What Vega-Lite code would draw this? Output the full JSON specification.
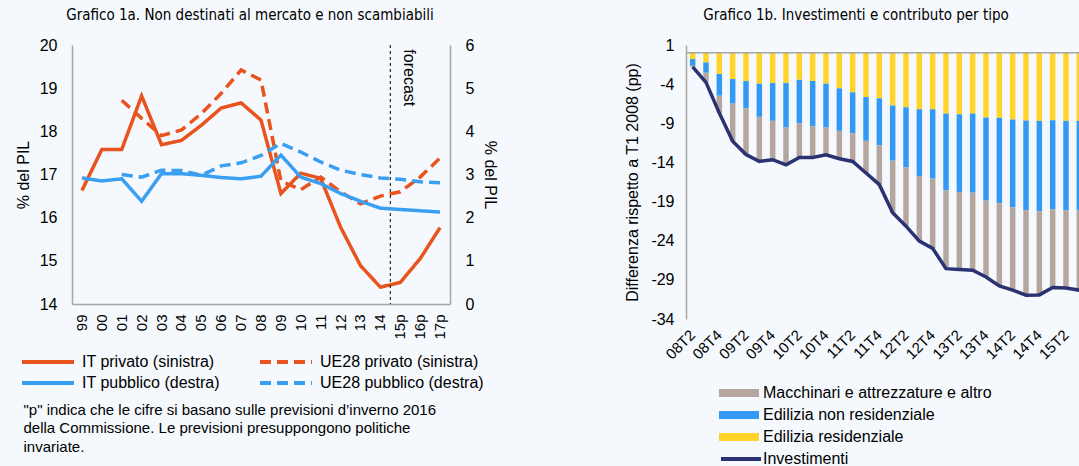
{
"$schema": "https://vega.github.io/schema/vega-lite/v6.json",
"background": "#f5f9fd",
"padding": {"left": 15, "top": 8, "right": 0, "bottom": 0},
"spacing": 236,
"bounds": "flush",
"resolve": {"scale": {"color": "independent", "stroke": "independent", "strokeDash": "independent"}, "legend": {"color": "independent", "stroke": "independent", "strokeDash": "independent"}},
"config": {
  "font": "Liberation Sans",
  "view": {"stroke": null},
  "axis": {"grid": false, "ticks": false, "domainColor": "#a6a6a6", "domainWidth": 1.5, "labelFontSize": 16, "labelColor": "#000", "titleFontWeight": "normal", "titleFontSize": 16, "titleColor": "#000", "labelOverlap": false},
  "legend": {"labelFontSize": 16, "labelColor": "#000", "padding": 0, "labelLimit": 400, "clipHeight": 18},
  "title": {"font": "DejaVu Sans Condensed", "fontSize": 15, "fontWeight": "normal", "color": "#000"}
},
"datasets": {
  "a": [
    {"anno":"99","serie":"IT privato (sinistra)","v":16.63},{"anno":"00","serie":"IT privato (sinistra)","v":17.58},{"anno":"01","serie":"IT privato (sinistra)","v":17.58},{"anno":"02","serie":"IT privato (sinistra)","v":18.82},{"anno":"03","serie":"IT privato (sinistra)","v":17.69},{"anno":"04","serie":"IT privato (sinistra)","v":17.79},{"anno":"05","serie":"IT privato (sinistra)","v":18.14},{"anno":"06","serie":"IT privato (sinistra)","v":18.54},{"anno":"07","serie":"IT privato (sinistra)","v":18.66},{"anno":"08","serie":"IT privato (sinistra)","v":18.26},{"anno":"09","serie":"IT privato (sinistra)","v":16.56},{"anno":"10","serie":"IT privato (sinistra)","v":17.03},{"anno":"11","serie":"IT privato (sinistra)","v":16.91},{"anno":"12","serie":"IT privato (sinistra)","v":15.78},{"anno":"13","serie":"IT privato (sinistra)","v":14.89},{"anno":"14","serie":"IT privato (sinistra)","v":14.39},{"anno":"15p","serie":"IT privato (sinistra)","v":14.5},{"anno":"16p","serie":"IT privato (sinistra)","v":15.05},{"anno":"17p","serie":"IT privato (sinistra)","v":15.77},
    {"anno":"01","serie":"UE28 privato (sinistra)","v":18.72},{"anno":"02","serie":"UE28 privato (sinistra)","v":18.3},{"anno":"03","serie":"UE28 privato (sinistra)","v":17.9},{"anno":"04","serie":"UE28 privato (sinistra)","v":18.03},{"anno":"05","serie":"UE28 privato (sinistra)","v":18.41},{"anno":"06","serie":"UE28 privato (sinistra)","v":18.88},{"anno":"07","serie":"UE28 privato (sinistra)","v":19.42},{"anno":"08","serie":"UE28 privato (sinistra)","v":19.19},{"anno":"09","serie":"UE28 privato (sinistra)","v":16.85},{"anno":"10","serie":"UE28 privato (sinistra)","v":16.65},{"anno":"11","serie":"UE28 privato (sinistra)","v":16.94},{"anno":"12","serie":"UE28 privato (sinistra)","v":16.6},{"anno":"13","serie":"UE28 privato (sinistra)","v":16.32},{"anno":"14","serie":"UE28 privato (sinistra)","v":16.5},{"anno":"15p","serie":"UE28 privato (sinistra)","v":16.6},{"anno":"16p","serie":"UE28 privato (sinistra)","v":16.94},{"anno":"17p","serie":"UE28 privato (sinistra)","v":17.38},
    {"anno":"99","serie":"IT pubblico (destra)","v":2.92},{"anno":"00","serie":"IT pubblico (destra)","v":2.85},{"anno":"01","serie":"IT pubblico (destra)","v":2.9},{"anno":"02","serie":"IT pubblico (destra)","v":2.38},{"anno":"03","serie":"IT pubblico (destra)","v":3.02},{"anno":"04","serie":"IT pubblico (destra)","v":3.02},{"anno":"05","serie":"IT pubblico (destra)","v":2.98},{"anno":"06","serie":"IT pubblico (destra)","v":2.93},{"anno":"07","serie":"IT pubblico (destra)","v":2.9},{"anno":"08","serie":"IT pubblico (destra)","v":2.96},{"anno":"09","serie":"IT pubblico (destra)","v":3.45},{"anno":"10","serie":"IT pubblico (destra)","v":2.94},{"anno":"11","serie":"IT pubblico (destra)","v":2.79},{"anno":"12","serie":"IT pubblico (destra)","v":2.56},{"anno":"13","serie":"IT pubblico (destra)","v":2.38},{"anno":"14","serie":"IT pubblico (destra)","v":2.22},{"anno":"15p","serie":"IT pubblico (destra)","v":2.19},{"anno":"16p","serie":"IT pubblico (destra)","v":2.16},{"anno":"17p","serie":"IT pubblico (destra)","v":2.13},
    {"anno":"01","serie":"UE28 pubblico (destra)","v":3.0},{"anno":"02","serie":"UE28 pubblico (destra)","v":2.94},{"anno":"03","serie":"UE28 pubblico (destra)","v":3.1},{"anno":"04","serie":"UE28 pubblico (destra)","v":3.09},{"anno":"05","serie":"UE28 pubblico (destra)","v":2.98},{"anno":"06","serie":"UE28 pubblico (destra)","v":3.2},{"anno":"07","serie":"UE28 pubblico (destra)","v":3.27},{"anno":"08","serie":"UE28 pubblico (destra)","v":3.44},{"anno":"09","serie":"UE28 pubblico (destra)","v":3.72},{"anno":"10","serie":"UE28 pubblico (destra)","v":3.52},{"anno":"11","serie":"UE28 pubblico (destra)","v":3.29},{"anno":"12","serie":"UE28 pubblico (destra)","v":3.1},{"anno":"13","serie":"UE28 pubblico (destra)","v":3.0},{"anno":"14","serie":"UE28 pubblico (destra)","v":2.92},{"anno":"15p","serie":"UE28 pubblico (destra)","v":2.89},{"anno":"16p","serie":"UE28 pubblico (destra)","v":2.83},{"anno":"17p","serie":"UE28 pubblico (destra)","v":2.81}
  ],
  "b": [
    {"q":"08T2","tipo":"Edilizia residenziale","v":-0.8,"o":1},{"q":"08T2","tipo":"Edilizia non residenziale","v":-0.85,"o":2},{"q":"08T2","tipo":"Macchinari e attrezzature e altro","v":-0.15,"o":3},
    {"q":"08T3","tipo":"Edilizia residenziale","v":-1.23,"o":1},{"q":"08T3","tipo":"Edilizia non residenziale","v":-1.31,"o":2},{"q":"08T3","tipo":"Macchinari e attrezzature e altro","v":-1.23,"o":3},
    {"q":"08T4","tipo":"Edilizia residenziale","v":-2.71,"o":1},{"q":"08T4","tipo":"Edilizia non residenziale","v":-2.76,"o":2},{"q":"08T4","tipo":"Macchinari e attrezzature e altro","v":-2.23,"o":3},
    {"q":"09T1","tipo":"Edilizia residenziale","v":-3.35,"o":1},{"q":"09T1","tipo":"Edilizia non residenziale","v":-3.14,"o":2},{"q":"09T1","tipo":"Macchinari e attrezzature e altro","v":-4.81,"o":3},
    {"q":"09T2","tipo":"Edilizia residenziale","v":-3.6,"o":1},{"q":"09T2","tipo":"Edilizia non residenziale","v":-3.48,"o":2},{"q":"09T2","tipo":"Macchinari e attrezzature e altro","v":-5.92,"o":3},
    {"q":"09T3","tipo":"Edilizia residenziale","v":-3.94,"o":1},{"q":"09T3","tipo":"Edilizia non residenziale","v":-4.24,"o":2},{"q":"09T3","tipo":"Macchinari e attrezzature e altro","v":-5.69,"o":3},
    {"q":"09T4","tipo":"Edilizia residenziale","v":-3.86,"o":1},{"q":"09T4","tipo":"Edilizia non residenziale","v":-4.83,"o":2},{"q":"09T4","tipo":"Macchinari e attrezzature e altro","v":-4.96,"o":3},
    {"q":"10T1","tipo":"Edilizia residenziale","v":-3.86,"o":1},{"q":"10T1","tipo":"Edilizia non residenziale","v":-5.68,"o":2},{"q":"10T1","tipo":"Macchinari e attrezzature e altro","v":-4.76,"o":3},
    {"q":"10T2","tipo":"Edilizia residenziale","v":-3.44,"o":1},{"q":"10T2","tipo":"Edilizia non residenziale","v":-5.59,"o":2},{"q":"10T2","tipo":"Macchinari e attrezzature e altro","v":-4.33,"o":3},
    {"q":"10T3","tipo":"Edilizia residenziale","v":-3.6,"o":1},{"q":"10T3","tipo":"Edilizia non residenziale","v":-5.77,"o":2},{"q":"10T3","tipo":"Macchinari e attrezzature e altro","v":-3.99,"o":3},
    {"q":"10T4","tipo":"Edilizia residenziale","v":-3.94,"o":1},{"q":"10T4","tipo":"Edilizia non residenziale","v":-5.6,"o":2},{"q":"10T4","tipo":"Macchinari e attrezzature e altro","v":-3.48,"o":3},
    {"q":"11T1","tipo":"Edilizia residenziale","v":-4.54,"o":1},{"q":"11T1","tipo":"Edilizia non residenziale","v":-5.43,"o":2},{"q":"11T1","tipo":"Macchinari e attrezzature e altro","v":-3.56,"o":3},
    {"q":"11T2","tipo":"Edilizia residenziale","v":-5.05,"o":1},{"q":"11T2","tipo":"Edilizia non residenziale","v":-5.25,"o":2},{"q":"11T2","tipo":"Macchinari e attrezzature e altro","v":-3.57,"o":3},
    {"q":"11T3","tipo":"Edilizia residenziale","v":-5.64,"o":1},{"q":"11T3","tipo":"Edilizia non residenziale","v":-5.6,"o":2},{"q":"11T3","tipo":"Macchinari e attrezzature e altro","v":-4.11,"o":3},
    {"q":"11T4","tipo":"Edilizia residenziale","v":-5.81,"o":1},{"q":"11T4","tipo":"Edilizia non residenziale","v":-6.02,"o":2},{"q":"11T4","tipo":"Macchinari e attrezzature e altro","v":-5.01,"o":3},
    {"q":"12T1","tipo":"Edilizia residenziale","v":-6.74,"o":1},{"q":"12T1","tipo":"Edilizia non residenziale","v":-7.04,"o":2},{"q":"12T1","tipo":"Macchinari e attrezzature e altro","v":-6.66,"o":3},
    {"q":"12T2","tipo":"Edilizia residenziale","v":-6.95,"o":1},{"q":"12T2","tipo":"Edilizia non residenziale","v":-7.68,"o":2},{"q":"12T2","tipo":"Macchinari e attrezzature e altro","v":-7.51,"o":3},
    {"q":"12T3","tipo":"Edilizia residenziale","v":-7.21,"o":1},{"q":"12T3","tipo":"Edilizia non residenziale","v":-8.52,"o":2},{"q":"12T3","tipo":"Macchinari e attrezzature e altro","v":-8.32,"o":3},
    {"q":"12T4","tipo":"Edilizia residenziale","v":-7.21,"o":1},{"q":"12T4","tipo":"Edilizia non residenziale","v":-8.86,"o":2},{"q":"12T4","tipo":"Macchinari e attrezzature e altro","v":-8.91,"o":3},
    {"q":"13T1","tipo":"Edilizia residenziale","v":-7.76,"o":1},{"q":"13T1","tipo":"Edilizia non residenziale","v":-9.8,"o":2},{"q":"13T1","tipo":"Macchinari e attrezzature e altro","v":-10.01,"o":3},
    {"q":"13T2","tipo":"Edilizia residenziale","v":-7.85,"o":1},{"q":"13T2","tipo":"Edilizia non residenziale","v":-9.92,"o":2},{"q":"13T2","tipo":"Macchinari e attrezzature e altro","v":-9.92,"o":3},
    {"q":"13T3","tipo":"Edilizia residenziale","v":-7.76,"o":1},{"q":"13T3","tipo":"Edilizia non residenziale","v":-10.09,"o":2},{"q":"13T3","tipo":"Macchinari e attrezzature e altro","v":-9.93,"o":3},
    {"q":"13T4","tipo":"Edilizia residenziale","v":-8.27,"o":1},{"q":"13T4","tipo":"Edilizia non residenziale","v":-10.6,"o":2},{"q":"13T4","tipo":"Macchinari e attrezzature e altro","v":-9.76,"o":3},
    {"q":"14T1","tipo":"Edilizia residenziale","v":-8.31,"o":1},{"q":"14T1","tipo":"Edilizia non residenziale","v":-10.9,"o":2},{"q":"14T1","tipo":"Macchinari e attrezzature e altro","v":-10.56,"o":3},
    {"q":"14T2","tipo":"Edilizia residenziale","v":-8.52,"o":1},{"q":"14T2","tipo":"Edilizia non residenziale","v":-11.2,"o":2},{"q":"14T2","tipo":"Macchinari e attrezzature e altro","v":-10.6,"o":3},
    {"q":"14T3","tipo":"Edilizia residenziale","v":-8.65,"o":1},{"q":"14T3","tipo":"Edilizia non residenziale","v":-11.45,"o":2},{"q":"14T3","tipo":"Macchinari e attrezzature e altro","v":-10.86,"o":3},
    {"q":"14T4","tipo":"Edilizia residenziale","v":-8.69,"o":1},{"q":"14T4","tipo":"Edilizia non residenziale","v":-11.54,"o":2},{"q":"14T4","tipo":"Macchinari e attrezzature e altro","v":-10.69,"o":3},
    {"q":"15T1","tipo":"Edilizia residenziale","v":-8.61,"o":1},{"q":"15T1","tipo":"Edilizia non residenziale","v":-11.36,"o":2},{"q":"15T1","tipo":"Macchinari e attrezzature e altro","v":-10.01,"o":3},
    {"q":"15T2","tipo":"Edilizia residenziale","v":-8.69,"o":1},{"q":"15T2","tipo":"Edilizia non residenziale","v":-11.41,"o":2},{"q":"15T2","tipo":"Macchinari e attrezzature e altro","v":-9.93,"o":3},
    {"q":"15T3","tipo":"Edilizia residenziale","v":-8.69,"o":1},{"q":"15T3","tipo":"Edilizia non residenziale","v":-11.45,"o":2},{"q":"15T3","tipo":"Macchinari e attrezzature e altro","v":-10.18,"o":3}
  ],
  "c": [
    {"q":"08T2","v":-1.8},{"q":"08T3","v":-3.77},{"q":"08T4","v":-7.7},{"q":"09T1","v":-11.3},{"q":"09T2","v":-13.0},{"q":"09T3","v":-13.87},{"q":"09T4","v":-13.65},{"q":"10T1","v":-14.3},{"q":"10T2","v":-13.36},{"q":"10T3","v":-13.36},{"q":"10T4","v":-13.02},{"q":"11T1","v":-13.53},{"q":"11T2","v":-13.87},{"q":"11T3","v":-15.35},{"q":"11T4","v":-16.84},{"q":"12T1","v":-20.44},{"q":"12T2","v":-22.14},{"q":"12T3","v":-24.05},{"q":"12T4","v":-24.98},{"q":"13T1","v":-27.57},{"q":"13T2","v":-27.69},{"q":"13T3","v":-27.78},{"q":"13T4","v":-28.63},{"q":"14T1","v":-29.77},{"q":"14T2","v":-30.32},{"q":"14T3","v":-30.96},{"q":"14T4","v":-30.92},{"q":"15T1","v":-29.98},{"q":"15T2","v":-30.03},{"q":"15T3","v":-30.32}
  ]
},
"hconcat": [
  {
    "width": 378, "height": 259,
    "title": {"text": "Grafico 1a. Non destinati al mercato e non scambiabili", "dx": -11, "frame": "group", "offset": 14},
    "data": {"name": "a"},
    "layer": [
      {
        "layer": [
          {
            "transform": [{"filter": {"field": "serie", "oneOf": ["IT privato (sinistra)", "UE28 privato (sinistra)"]}}],
            "mark": {"type": "line", "strokeWidth": 3.5},
            "encoding": {
              "x": {"field": "anno", "type": "ordinal", "bandPosition": 0.5,
                    "scale": {"type": "band", "domain": ["99","00","01","02","03","04","05","06","07","08","09","10","11","12","13","14","15p","16p","17p"], "paddingInner": 0, "paddingOuter": 0},
                    "axis": {"labelAngle": -90, "labelFontSize": 15, "labelPadding": 10,
                             "title": ["\"p\" indica che le cifre si basano sulle previsioni d’inverno 2016", "della Commissione. Le previsioni presuppongono politiche", "invariate."],
                             "titleFontSize": 15, "titleLineHeight": 18.5, "titleAlign": "left", "titleBaseline": "top", "titleAnchor": "start", "titleX": -49, "titleY": 98}},
              "y": {"field": "v", "type": "quantitative", "scale": {"domain": [14, 20], "nice": false, "zero": false},
                    "axis": {"orient": "left", "title": "% del PIL", "values": [14,15,16,17,18,19,20], "format": "d", "labelPadding": 15, "titlePadding": 8}},
              "color": {"field": "serie", "type": "nominal",
                        "scale": {"domain": ["IT privato (sinistra)", "IT pubblico (destra)", "UE28 privato (sinistra)", "UE28 pubblico (destra)"], "range": ["#e8531e", "#3a9ff0", "#e8531e", "#3a9ff0"]},
                        "legend": {"title": null, "orient": "none", "legendX": -52, "legendY": 308, "columns": 2, "symbolType": "stroke", "symbolSize": 2704, "symbolStrokeWidth": 4, "labelOffset": 6, "columnPadding": 38, "rowPadding": 3}},
              "strokeDash": {"field": "serie", "type": "nominal",
                        "scale": {"domain": ["IT privato (sinistra)", "IT pubblico (destra)", "UE28 privato (sinistra)", "UE28 pubblico (destra)"], "range": [[1, 0], [1, 0], [11, 6], [11, 6]]},
                        "legend": {"title": null, "orient": "none", "legendX": -52, "legendY": 308, "columns": 2, "symbolType": "stroke", "symbolSize": 2704, "symbolStrokeWidth": 4, "labelOffset": 6, "columnPadding": 38, "rowPadding": 3}}
            }
          },
          {
            "data": {"values": [{}]},
            "mark": {"type": "rule", "color": "#000", "strokeWidth": 1, "strokeDash": [3, 3]},
            "encoding": {"x": {"datum": "14", "type": "ordinal", "bandPosition": 1}}
          },
          {
            "data": {"values": [{}]},
            "mark": {"type": "text", "angle": 90, "align": "left", "baseline": "middle", "fontSize": 16},
            "encoding": {"x": {"datum": "15p", "type": "ordinal", "bandPosition": 0.95}, "y": {"datum": 19.9, "type": "quantitative"}, "text": {"value": "forecast"}}
          }
        ]
      },
      {
        "transform": [{"filter": {"field": "serie", "oneOf": ["IT pubblico (destra)", "UE28 pubblico (destra)"]}}],
        "mark": {"type": "line", "strokeWidth": 3.5},
        "encoding": {
          "x": {"field": "anno", "type": "ordinal", "bandPosition": 0.5},
          "y": {"field": "v", "type": "quantitative", "scale": {"domain": [0, 6], "nice": false},
                "axis": {"orient": "right", "title": "% del PIL", "values": [0,1,2,3,4,5,6], "format": "d", "labelPadding": 15, "titlePadding": 8}},
          "color": {"field": "serie", "type": "nominal"},
          "strokeDash": {"field": "serie", "type": "nominal"}
        }
      }
    ],
    "resolve": {"scale": {"y": "independent"}}
  },
  {
    "width": 400, "height": 274,
    "title": {"text": "Grafico 1b. Investimenti e contributo per tipo", "dx": -30, "frame": "group", "offset": 14},
    "layer": [
      {
        "data": {"name": "b"},
        "mark": {"type": "bar", "size": 5.5},
        "encoding": {
          "x": {"field": "q", "type": "ordinal", "scale": {"type": "band", "paddingInner": 0, "paddingOuter": 0},
                "axis": {"values": ["08T2","08T4","09T2","09T4","10T2","10T4","11T2","11T4","12T2","12T4","13T2","13T4","14T2","14T4","15T2"], "labelAngle": -45, "labelAlign": "right", "labelBaseline": "middle", "labelFontSize": 15, "labelPadding": 13, "title": null, "domain": false}},
          "y": {"field": "v", "type": "quantitative", "stack": "zero", "scale": {"domain": [-34, 1], "nice": false, "zero": false},
                "axis": {"values": [-34,-29,-24,-19,-14,-9,-4,1], "tickCount": 12, "format": "d", "labelOverlap": false, "labelExpr": "replace(datum.label, '\u2212', '-')", "title": "Differenza rispetto a T1 2008 (pp)", "labelPadding": 12, "titlePadding": 10}},
          "color": {"field": "tipo", "type": "nominal",
                    "scale": {"domain": ["Macchinari e attrezzature e altro", "Edilizia non residenziale", "Edilizia residenziale"], "range": ["#b5a79f", "#3399f5", "#ffd428"]},
                    "legend": {"title": null, "orient": "none", "legendX": 33, "legendY": 339, "symbolType": "M-1,-0.2H1V0.2H-1Z", "symbolSize": 1600, "symbolStrokeWidth": 0, "labelOffset": 4, "rowPadding": 4}},
          "order": {"field": "o", "type": "quantitative"}
        }
      },
      {
        "data": {"values": [{}]},
        "mark": {"type": "rule", "color": "#a6a6a6", "strokeWidth": 1.5},
        "encoding": {"y": {"datum": 0, "type": "quantitative"}}
      },
      {
        "data": {"name": "c"},
        "mark": {"type": "line", "strokeWidth": 3.5},
        "encoding": {
          "x": {"field": "q", "type": "ordinal", "bandPosition": 0.5},
          "y": {"field": "v", "type": "quantitative"},
          "stroke": {"datum": "Investimenti", "type": "nominal", "scale": {"domain": ["Investimenti"], "range": ["#2b3272"]},
                     "legend": {"title": null, "orient": "none", "legendX": 33, "legendY": 405, "symbolType": "stroke", "symbolSize": 1600, "symbolStrokeWidth": 4, "labelOffset": 0}}
        }
      }
    ]
  }
]
}
